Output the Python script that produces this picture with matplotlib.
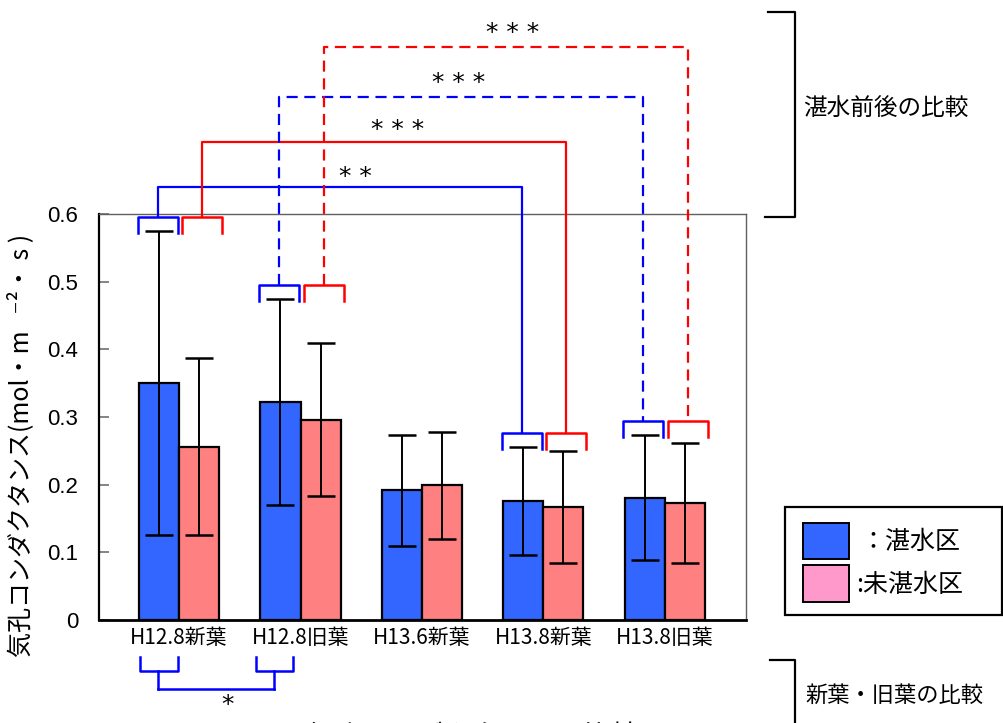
import matplotlib
matplotlib.use("Agg")
import matplotlib.pyplot as plt
from matplotlib.patches import Rectangle
import numpy as np

plt.rcParams['font.family'] = ['Noto Sans CJK JP', 'DejaVu Sans']

# ---- data ----
categories = ['H12.8新葉', 'H12.8旧葉', 'H13.6新葉', 'H13.8新葉', 'H13.8旧葉']
flooded_mean = [0.350, 0.322, 0.192, 0.176, 0.181]
flooded_sd = [0.225, 0.152, 0.082, 0.080, 0.092]
unflooded_mean = [0.256, 0.296, 0.199, 0.167, 0.173]
unflooded_sd = [0.131, 0.113, 0.079, 0.083, 0.089]
yticks = [0, 0.1, 0.2, 0.3, 0.4, 0.5, 0.6]
ytick_labels = ['0', '0.1', '0.2', '0.3', '0.4', '0.5', '0.6']

# significance: (group A, group B, series, stars, line level, linestyle)
before_after = [
    (0, 3, 'flooded', '**', 0.640, '-'),
    (0, 3, 'unflooded', '***', 0.706, '-'),
    (1, 4, 'flooded', '***', 0.773, '--'),
    (1, 4, 'unflooded', '***', 0.847, '--'),
]

BLUE = '#3366FF'
PINK = '#FF8080'
LEGEND_PINK = '#FF99CC'
LINE_BLUE = '#0000FF'
LINE_RED = '#FF0000'

fig = plt.figure(figsize=(10.04, 7.23), dpi=100)
ax = fig.add_axes([99 / 1004, 103 / 723, 647 / 1004, 406 / 723])

x = np.arange(len(categories))
w = 0.33
ekw = dict(ecolor='black', elinewidth=1.4, capsize=10, capthick=1.8)
ax.bar(x - w / 2, flooded_mean, w, color=BLUE, edgecolor='black', linewidth=1.6,
       yerr=flooded_sd, error_kw=ekw, zorder=2)
ax.bar(x + w / 2, unflooded_mean, w, color=PINK, edgecolor='black', linewidth=1.6,
       yerr=unflooded_sd, error_kw=ekw, zorder=2)

ax.set_xlim(-0.66, 4.67)
ax.set_ylim(0, 0.6)
ax.set_yticks(yticks)
ax.set_yticklabels(ytick_labels, family=['Liberation Sans', 'DejaVu Sans'], fontsize=16)
ax.set_xticks(x)
ax.set_xticklabels(categories, fontsize=15)
ax.tick_params(axis='x', length=0, pad=5)
ax.tick_params(axis='y', direction='in', length=7, width=1.2, color='#707070', pad=15)
for s in ['top', 'right']:
    ax.spines[s].set_color('#606060')
    ax.spines[s].set_linewidth(1.0)
ax.spines['left'].set_linewidth(1.6)
ax.spines['bottom'].set_linewidth(2.0)

ax.set_ylabel('気孔コンダクタンス(mol・m   ⁻²・ s )', fontsize=18)
ax.yaxis.set_label_coords(-0.101, 0.43)

# ---- small brackets above each bar pair ----
leg = 0.024
gap = 0.021
offs = {'flooded': (-w / 2 - 0.01, LINE_BLUE), 'unflooded': (w / 2 + 0.025, LINE_RED)}
br_half = 0.165

def group_top(i):
    return max(flooded_mean[i] + flooded_sd[i], unflooded_mean[i] + unflooded_sd[i]) + gap

def small_bracket(i, series):
    dx, c = offs[series]
    cx = x[i] + dx
    yt = group_top(i)
    ax.plot([cx - br_half, cx - br_half, cx + br_half, cx + br_half],
            [yt - leg, yt, yt, yt - leg], color=c, lw=1.8, clip_on=False, zorder=3)

for i in [0, 1, 3, 4]:
    for s in ['flooded', 'unflooded']:
        small_bracket(i, s)

for a, b, series, stars, level, ls in before_after:
    dx, c = offs[series]
    xa, xb = x[a] + dx, x[b] + dx
    ax.plot([xa, xa, xb, xb], [group_top(a), level, level, group_top(b)],
            color=c, lw=1.6, ls=ls, dashes=(5, 3) if ls == '--' else (None, None),
            clip_on=False, zorder=3)

star_pos = [(1.45, 0.655), (1.80, 0.724), (2.30, 0.793), (2.75, 0.867)]
for (sx, sy), (_, _, _, stars, _, _) in zip(star_pos, before_after):
    ax.text(sx, sy, ' '.join(stars), ha='center', va='center', fontsize=18,
            family=['DejaVu Sans'], clip_on=False)

# ---- new vs old leaf comparison below the axis ----
def low_bracket(x0, x1, stem):
    ax.plot([x0, x0, x1, x1], [-0.054, -0.075, -0.075, -0.054], color=LINE_BLUE,
            lw=1.8, clip_on=False)
    ax.plot([stem, stem], [-0.075, -0.102], color=LINE_BLUE, lw=1.8, clip_on=False)

low_bracket(-0.322, -0.012, -0.177)
low_bracket(0.635, 0.940, 0.783)
ax.plot([-0.177, 0.783], [-0.102, -0.102], color=LINE_BLUE, lw=1.8, clip_on=False)
ax.text(0.40, -0.125, '*', ha='center', va='center', fontsize=18,
        family=['DejaVu Sans'], clip_on=False)

# ---- right-hand side group brackets ----
def fx(px):
    return px / 1004

def fy(py):
    return 1 - py / 723

fig.add_artist(plt.Line2D([fx(768), fx(795), fx(795), fx(765)],
                          [fy(12), fy(12), fy(217), fy(217)], color='black', lw=1.6))
fig.text(fx(803), fy(108), '湛水前後の比較', fontsize=17, va='center', ha='left')

fig.add_artist(plt.Line2D([fx(770), fx(795), fx(795)],
                          [fy(660), fy(660), fy(730)], color='black', lw=1.6))
fig.text(fx(805), fy(695), '新葉・旧葉の比較', fontsize=16, va='center', ha='left')

# ---- legend ----
fig.add_artist(Rectangle((fx(785), fy(615)), fx(1002) - fx(785), fy(507) - fy(615),
                         transform=fig.transFigure, facecolor='white',
                         edgecolor='black', lw=1.6))
fig.add_artist(Rectangle((fx(803), fy(559)), fx(849) - fx(803), fy(523) - fy(559),
                         transform=fig.transFigure, facecolor=BLUE,
                         edgecolor='black', lw=1.4))
fig.add_artist(Rectangle((fx(803), fy(602)), fx(849) - fx(803), fy(565) - fy(602),
                         transform=fig.transFigure, facecolor=LEGEND_PINK,
                         edgecolor='black', lw=1.4))
fig.text(fx(860), fy(542), '：湛水区', fontsize=18, va='center', ha='left')
fig.text(fx(856), fy(585), ':未湛水区', fontsize=18, va='center', ha='left')

# ---- caption ----
fig.text(fx(472), fy(745), '気孔コンダクタンスの比較', fontsize=20, va='baseline', ha='center')

fig.savefig('out.png', dpi=100)
